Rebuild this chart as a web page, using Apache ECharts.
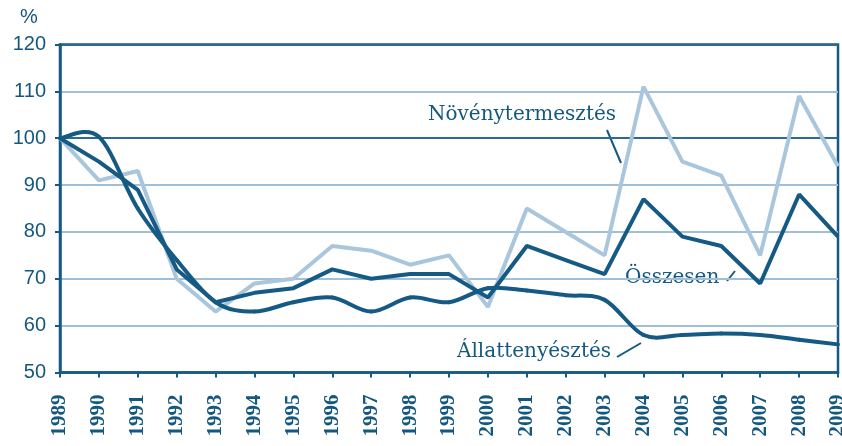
<!DOCTYPE html>
<html>
<head>
<meta charset="utf-8">
<script src="https://cdn.jsdelivr.net/npm/echarts@6/dist/echarts.min.js"></script>
<style>
html,body{margin:0;padding:0;background:#fff;}
#chart{width:842px;height:446px;}
</style>
</head>
<body>
<div id="chart"></div>
<script>
const years = ['1989','1990','1991','1992','1993','1994','1995','1996','1997','1998','1999','2000','2001','2002','2003','2004','2005','2006','2007','2008','2009'];
const novenytermesztes = [100, 91, 93, 70, 63, 69, 70, 77, 76, 73, 75, 64, 85, 80, 75, 111, 95, 92, 75, 109, 94];
const osszesen = [100, 95, 89, 72, 65, 67, 68, 72, 70, 71, 71, 66, 77, 74, 71, 87, 79, 77, 69, 88, 79];
const allattenyesztes = [100, 100.3, 85, 74, 65, 63, 65, 66, 63, 66, 65, 68, 67.5, 66.5, 65.5, 58, 58, 58.3, 58, 57, 56];
const yTicks = [50, 60, 70, 80, 90, 100, 110, 120];

const DARK = '#155a84';
const LIGHT = '#a9c6dc';
const GRID_LIGHT = '#9fc0d8';
const GRID_DARK = '#2a6a96';
const TEXT = '#14587f';

// Catmull-Rom style smooth segment between point i and i+1, positioned via the axes
function smoothSegment(params, api) {
  const i = api.value(0);
  const n = allattenyesztes.length;
  if (i >= n - 1) return null;
  const P = j => api.coord([Math.max(0, Math.min(n - 1, j)), allattenyesztes[Math.max(0, Math.min(n - 1, j))]]);
  const p0 = P(i - 1), p1 = P(i), p2 = P(i + 1), p3 = P(i + 2);
  const k = 1 / 6;
  return {
    type: 'bezierCurve',
    shape: {
      x1: p1[0], y1: p1[1], x2: p2[0], y2: p2[1],
      cpx1: p1[0] + (p2[0] - p0[0]) * k, cpy1: p1[1] + (p2[1] - p0[1]) * k,
      cpx2: p2[0] - (p3[0] - p1[0]) * k, cpy2: p2[1] - (p3[1] - p1[1]) * k
    },
    style: {stroke: DARK, lineWidth: 4, fill: null, lineCap: 'round'}
  };
}

const chart = echarts.init(document.getElementById('chart'));
chart.setOption({
  animation: false,
  backgroundColor: '#ffffff',
  grid: {left: 60, right: 4, top: 44.5, bottom: 73.5, show: true, borderColor: DARK, borderWidth: 2.5, containLabel: false, outerBoundsMode: 'none'},
  xAxis: {
    type: 'category',
    data: years,
    boundaryGap: false,
    axisLine: {lineStyle: {color: DARK, width: 2.5}},
    axisTick: {show: true, length: 5, lineStyle: {color: DARK, width: 2}, alignWithLabel: true},
    axisLabel: {
      rotate: 90, margin: 22, interval: 0,
      fontFamily: 'Liberation Serif', fontWeight: 'bold', fontSize: 21, color: TEXT
    },
    splitLine: {show: false}
  },
  yAxis: {
    type: 'value',
    min: yTicks[0], max: yTicks[yTicks.length - 1], interval: 10,
    axisLine: {show: true, lineStyle: {color: DARK, width: 2.5}},
    axisTick: {show: true, length: 5, lineStyle: {color: DARK, width: 2}},
    axisLabel: {fontFamily: 'Liberation Sans', fontSize: 20, color: TEXT, margin: 14},
    splitLine: {show: true, lineStyle: {color: ['rgba(0,0,0,0)', GRID_LIGHT, GRID_LIGHT, GRID_LIGHT, GRID_LIGHT, GRID_DARK, GRID_LIGHT, GRID_DARK], width: 2}}
  },
  graphic: [
    {type: 'text', left: 20, top: 7, style: {text: '%', font: '20px "Liberation Sans"', fill: TEXT}},
    {type: 'text', left: 428, top: 105, style: {text: 'Növénytermesztés', font: '20px "DejaVu Serif"', fill: TEXT}},
    {type: 'line', shape: {x1: 607, y1: 130, x2: 621, y2: 163}, style: {stroke: TEXT, lineWidth: 2}},
    {type: 'text', left: 625, top: 268, style: {text: 'Összesen', font: '20px "DejaVu Serif"', fill: TEXT}},
    {type: 'line', shape: {x1: 727, y1: 281, x2: 735, y2: 271}, style: {stroke: TEXT, lineWidth: 2}},
    {type: 'text', left: 457, top: 342, style: {text: 'Állattenyésztés', font: '20px "DejaVu Serif"', fill: TEXT}},
    {type: 'line', shape: {x1: 617, y1: 357, x2: 641, y2: 343}, style: {stroke: TEXT, lineWidth: 2}}
  ],
  series: [
    {name: 'Növénytermesztés', type: 'line', data: novenytermesztes, symbol: 'none', lineStyle: {color: LIGHT, width: 4}, z: 2},
    {name: 'Összesen', type: 'line', data: osszesen, symbol: 'none', lineStyle: {color: DARK, width: 4}, z: 3},
    {name: 'Állattenyésztés', type: 'custom', renderItem: smoothSegment,
     data: allattenyesztes.map((v, i) => [i, v]), encode: {x: 0, y: 1}, z: 4, clip: false}
  ]
});
</script>
</body>
</html>
